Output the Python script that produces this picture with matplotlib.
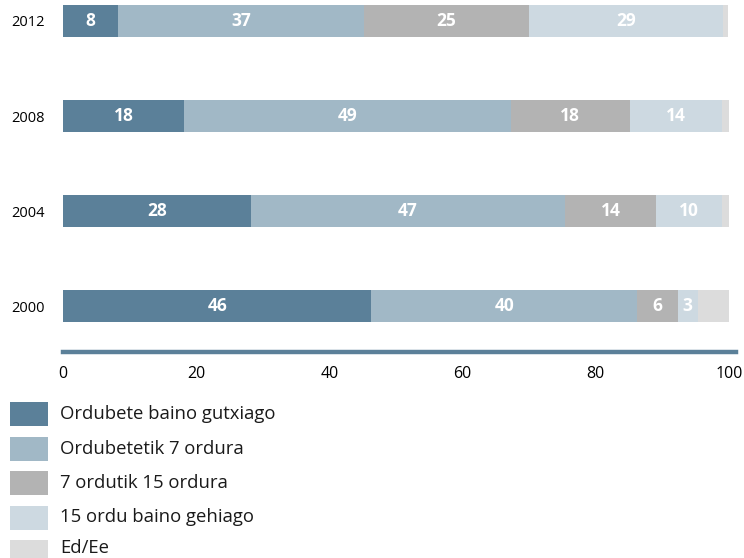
import matplotlib
matplotlib.use("Agg")
import matplotlib.pyplot as plt
from matplotlib.patches import Rectangle

years = ["2000", "2004", "2008", "2012"]
categories = ["Ordubete baino gutxiago", "Ordubetetik 7 ordura",
              "7 ordutik 15 ordura", "15 ordu baino gehiago", "Ed/Ee"]
s_lt1 = [46.3, 28.2, 18.2, 8.2]
s_1to7 = [39.9, 47.2, 49.0, 37.0]
s_7to15 = [6.1, 13.6, 17.9, 24.8]
s_gt15 = [3.0, 10.0, 13.9, 29.1]
s_na = [4.8, 1.0, 1.0, 0.8]
labels_lt1 = [46, 28, 18, 8]
labels_1to7 = [40, 47, 49, 37]
labels_7to15 = [6, 14, 18, 25]
labels_gt15 = [3, 10, 14, 29]
xticks = [0, 20, 40, 60, 80, 100]

colors = ["#5b8099", "#a1b8c6", "#b3b3b3", "#cdd9e1", "#dcdcdc"]
series = [s_lt1, s_1to7, s_7to15, s_gt15, s_na]
labels = [labels_lt1, labels_1to7, labels_7to15, labels_gt15, None]

plt.rcParams['font.family'] = ['Open Sans', 'DejaVu Sans']

W, H = 744, 558
fig = plt.figure(figsize=(W/100, H/100), dpi=100)
ax = fig.add_axes([63/W, 1-352/H, (729-63)/W, 352/H])

ypos = list(range(len(years)))
left = [0.0]*len(years)
for vals, col, labs in zip(series, colors, labels):
    bars = ax.barh(ypos, vals, left=left, height=0.33, color=col, edgecolor='none')
    if labs is not None:
        for i, (b, lab) in enumerate(zip(bars, labs)):
            cx = b.get_x() + b.get_width()/2
            ax.text(cx, b.get_y()+b.get_height()/2, str(lab), ha='center', va='center',
                    color='white', fontsize=12.5, fontweight='bold')
    left = [l+v for l, v in zip(left, vals)]

ax.set_xlim(0, 100)
ax.set_ylim(-0.484, 3.221)
ax.set_yticks(ypos)
ax.set_yticklabels(years, fontsize=10.5)
ax.set_xticks(xticks)
ax.set_xticklabels([str(t) for t in xticks], fontsize=11.5)
ax.tick_params(axis='x', length=0, pad=10)
ax.tick_params(axis='y', length=0, pad=13)
for s in ['top', 'right', 'left']:
    ax.spines[s].set_visible(False)
ax.spines['bottom'].set_color('#5b8099')
ax.spines['bottom'].set_linewidth(3.2)
ax.spines['bottom'].set_bounds(0, 101)

# Legend
y0 = 414
for i, (cat, col) in enumerate(zip(categories, colors)):
    yc = y0 + i*34.5
    fig.add_artist(Rectangle((10/W, 1-(yc+12)/H), 38/W, 24/H, transform=fig.transFigure,
                             facecolor=col, edgecolor='none'))
    ty = yc if i < 4 else yc - 4
    fig.text(60/W, 1-ty/H, cat, ha='left', va='center', fontsize=13.3, color='#1a1a1a')

fig.savefig("out.png", dpi=100)
